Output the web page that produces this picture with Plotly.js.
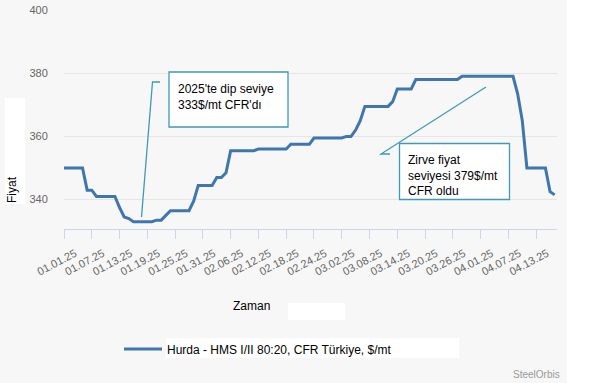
<!DOCTYPE html>
<html>
<head>
<meta charset="utf-8">
<script src="https://cdn.plot.ly/plotly-3.0.1.min.js"></script>
<style>html,body{margin:0;padding:0;background:#ffffff;}#chart{width:600px;height:383px;}</style>
</head>
<body>
<div id="chart"></div>
<script>
// ---- data ----
const seriesName = "Hurda - HMS I/II 80:20, CFR Türkiye, $/mt";
const dates = [
  "2025-01-01","2025-01-02","2025-01-03","2025-01-04","2025-01-05","2025-01-06","2025-01-07","2025-01-08","2025-01-09","2025-01-10",
  "2025-01-11","2025-01-12","2025-01-13","2025-01-14","2025-01-15","2025-01-16","2025-01-17","2025-01-18","2025-01-19","2025-01-20",
  "2025-01-21","2025-01-22","2025-01-23","2025-01-24","2025-01-25","2025-01-26","2025-01-27","2025-01-28","2025-01-29","2025-01-30",
  "2025-01-31","2025-02-01","2025-02-02","2025-02-03","2025-02-04","2025-02-05","2025-02-06","2025-02-07","2025-02-08","2025-02-09",
  "2025-02-10","2025-02-11","2025-02-12","2025-02-13","2025-02-14","2025-02-15","2025-02-16","2025-02-17","2025-02-18","2025-02-19",
  "2025-02-20","2025-02-21","2025-02-22","2025-02-23","2025-02-24","2025-02-25","2025-02-26","2025-02-27","2025-02-28","2025-03-01",
  "2025-03-02","2025-03-03","2025-03-04","2025-03-05","2025-03-06","2025-03-07","2025-03-08","2025-03-09","2025-03-10","2025-03-11",
  "2025-03-12","2025-03-13","2025-03-14","2025-03-15","2025-03-16","2025-03-17","2025-03-18","2025-03-19","2025-03-20","2025-03-21",
  "2025-03-22","2025-03-23","2025-03-24","2025-03-25","2025-03-26","2025-03-27","2025-03-28","2025-03-29","2025-03-30","2025-03-31",
  "2025-04-01","2025-04-02","2025-04-03","2025-04-04","2025-04-05","2025-04-06","2025-04-07","2025-04-08","2025-04-09","2025-04-10",
  "2025-04-11","2025-04-12","2025-04-13","2025-04-14","2025-04-15","2025-04-16","2025-04-17"
];
const prices = [
  350,350,350,350,350,343,343,341,341,341,
  341,341,337.5,334.5,334,333,333,333,333,333,
  333.5,333.5,335,336.5,336.5,336.5,336.5,336.5,339.5,344.5,
  344.5,344.5,344.5,347,347,348.5,355.5,355.5,355.5,355.5,
  355.5,355.5,356,356,356,356,356,356,356,357.5,
  357.5,357.5,357.5,357.5,359.5,359.5,359.5,359.5,359.5,359.5,
  359.5,360,360,362,365,369.5,369.5,369.5,369.5,369.5,
  369.5,371,375,375,375,375,378,378,378,378,
  378,378,378,378,378,378,379,379,379,379,
  379,379,379,379,379,379,379,379,373.5,365,
  350,350,350,350,350,342.5,341.5
];
const xTickStart = "2025-01-01";
const xRange = ["2025-01-01", "2025-04-17 12:00"];
const yTicks = [340, 360, 380, 400];
const yRange = [330.7, 400];
const xTitle = "Zaman";
const yTitle = "Fiyat";
const lowNote = "2025'te dip seviye<br>333$/mt CFR'dı";
const peakNote = "Zirve fiyat<br>seviyesi 379$/mt<br>CFR oldu";
const credit = "SteelOrbis";

// ---- geometry helpers (pixel -> paper) ----
const W = 600, H = 383;
const M = {l: 64, r: 43, t: 10, b: 154};
const PW = W - M.l - M.r, PH = H - M.t - M.b;
const px = x => (x - M.l) / PW;
const py = y => (H - M.b - y) / PH;

const FONT = 'Arial, "Liberation Sans", sans-serif';
const teal = '#3d9bb6';
const bg = '#f7f7f7';

function rect(x0, y0, x1, y1, fill, line, layer) {
  return {type: 'rect', xref: 'paper', yref: 'paper',
    x0: px(x0), x1: px(x1), y0: py(y1), y1: py(y0),
    fillcolor: fill, line: line || {width: 0}, layer: layer || 'below'};
}
function path(pts, color) {
  const d = pts.map((p, i) => (i ? 'L' : 'M') + px(p[0]) + ',' + py(p[1])).join(' ');
  return {type: 'path', xref: 'paper', yref: 'paper', path: d,
    line: {color: color, width: 1.3}, layer: 'above'};
}

const trace = {
  type: 'scatter', mode: 'lines', name: seriesName,
  x: dates, y: prices,
  line: {color: '#3f76ae', width: 3},
  hoverinfo: 'skip'
};

const layout = {
  width: W, height: H,
  margin: M,
  paper_bgcolor: bg, plot_bgcolor: bg,
  font: {family: FONT, color: '#000'},
  showlegend: true,
  legend: {
    orientation: 'h', x: px(119), xanchor: 'left', y: py(349), yanchor: 'middle',
    itemwidth: 38,
    bgcolor: 'rgba(0,0,0,0)', font: {family: FONT, size: 12, color: '#000'}
  },
  xaxis: {
    type: 'date', range: xRange,
    tickmode: 'linear', tick0: xTickStart, dtick: 6 * 86400000,
    tickformat: '%m.%d.%y', tickangle: -28, ticklabelshift: 11, ticklabelstandoff: 4,
    tickfont: {family: FONT, size: 11, color: '#666'},
    showgrid: false, zeroline: false,
    showline: true, linecolor: '#ccd6eb', linewidth: 1,
    ticks: 'outside', ticklen: 9, tickcolor: '#ccd6eb', tickwidth: 1,
    fixedrange: true
  },
  yaxis: {
    range: yRange, tickmode: 'array', tickvals: yTicks,
    tickfont: {family: FONT, size: 11, color: '#666'},
    showgrid: true, gridcolor: '#e6e6e6', gridwidth: 1,
    zeroline: false, showline: false,
    ticks: 'outside', ticklen: 13, tickcolor: 'rgba(0,0,0,0)',
    fixedrange: true
  },
  shapes: [
    rect(567, -1, 601, 384, '#ffffff'),
    rect(5, 98, 25, 204, '#ffffff'),
    rect(288, 303, 345, 320, '#ffffff'),
    rect(166, 338, 459, 358, '#ffffff'),
    // annotation boxes
    rect(169, 72, 288, 127, '#ffffff', {color: teal, width: 1.3}, 'above'),
    rect(399.5, 143.5, 509.5, 199.5, '#ffffff', {color: teal, width: 1.3}, 'above'),
    // connectors
    path([[160, 82], [152.5, 82], [141.5, 217]], teal),
    path([[390, 154], [381, 154], [486, 87]], teal)
  ],
  annotations: [
    {xref: 'paper', yref: 'paper', x: px(176), y: py(80), xanchor: 'left', yanchor: 'top',
      align: 'left', showarrow: false, text: lowNote, font: {family: FONT, size: 12, color: '#000'}},
    {xref: 'paper', yref: 'paper', x: px(405.5), y: py(151), xanchor: 'left', yanchor: 'top',
      align: 'left', showarrow: false, text: peakNote, font: {family: FONT, size: 12, color: '#000'}},
    {xref: 'paper', yref: 'paper', x: px(251), y: py(306), xanchor: 'center', yanchor: 'middle',
      showarrow: false, text: xTitle, font: {family: FONT, size: 12, color: '#000'}},
    {xref: 'paper', yref: 'paper', x: px(12), y: py(190), xanchor: 'center', yanchor: 'middle',
      showarrow: false, text: yTitle, textangle: -90, font: {family: FONT, size: 12, color: '#000'}},
    {xref: 'paper', yref: 'paper', x: px(562), y: py(374), xanchor: 'right', yanchor: 'middle',
      showarrow: false, text: credit, font: {family: FONT, size: 10, color: '#999'}}
  ]
};

Plotly.newPlot('chart', [trace], layout, {displayModeBar: false, staticPlot: true});
</script>
</body>
</html>
